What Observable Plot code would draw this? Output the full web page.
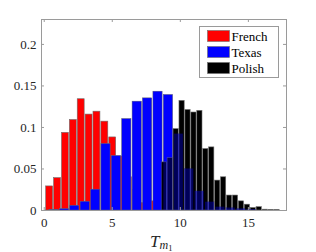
<!DOCTYPE html>
<html><head><meta charset="utf-8">
<script src="https://cdn.jsdelivr.net/npm/d3@7"></script>
<script src="https://cdn.jsdelivr.net/npm/@observablehq/plot@0.6"></script>
<style>body{margin:0;background:#fff} svg{display:block}</style>
</head><body><div id="chart"></div>
<script>
const seriesNames = ["French", "Texas", "Polish"];
const seriesColors = ["#ff0000", "#0000ff", "#000000"];
// histogram bins: first bin centre and bin width (in T units)
const frenchBinStart = 0.40, frenchBinWidth = 0.579;
const texasBinStart = 0.72, texasBinWidth = 0.764;
const polishBinStart = 8.82, polishBinWidth = 0.436;
const frenchValues = [0.029, 0.039, 0.0935, 0.109, 0.134, 0.1155, 0.119, 0.107, 0.088, 0.065, 0.040, 0.025, 0.009, 0.011, 0.004, 0.002, 0.001];
const texasValues = [0.0005, 0.0016, 0.0056, 0.0104, 0.025, 0.080, 0.0655, 0.110, 0.131, 0.135, 0.143, 0.139, 0.092, 0.050, 0.023, 0.010, 0.004, 0.003, 0.002, 0.001];
const polishValues = [0.058, 0.063, 0.098, 0.132, 0.121, 0.118, 0.120, 0.074, 0.076, 0.036, 0.040, 0.018, 0.018, 0.011, 0.007, 0.003, 0.004, 0.001, 0.0008, 0.0006];
const xTicks = [0, 5, 10, 15];
const yTicks = [0, 0.05, 0.1, 0.15, 0.2];

const toRows = (name, start, w, vals) => vals.map((v, i) => ({series: name, c: start + i * w, w, v}));
const french = toRows("French", frenchBinStart, frenchBinWidth, frenchValues);
const texas = toRows("Texas", texasBinStart, texasBinWidth, texasValues);
const polish = toRows("Polish", polishBinStart, polishBinWidth, polishValues);

const FONT = "'Liberation Serif', 'Times New Roman', serif";
const W = 316, H = 252, mL = 41, mR = 30, mT = 19, mB = 42;
const fw = W - mL - mR, fh = H - mT - mB, tl = 3;
const bw = 0.44;
const barOpts = (col) => ({x1: d => d.c - d.w * bw, x2: d => d.c + d.w * bw, y1: 0, y2: "v", fill: col, stroke: "#6e6e6e", strokeWidth: 0.6});

const svg = Plot.plot({
  width: W, height: H,
  marginLeft: mL, marginRight: mR, marginTop: mT, marginBottom: mB,
  style: {fontSize: "13px", color: "#262626", background: "#fff"},
  x: {domain: [-0.2, 17.8]},
  y: {domain: [0, 0.23]},
  marks: [
    Plot.rectY(french, barOpts(seriesColors[0])),
    Plot.rectY(texas, barOpts(seriesColors[1])),
    Plot.rectY(polish, barOpts(seriesColors[2])),
    Plot.rectY(texas, {x1: d => d.c - d.w * bw, x2: d => d.c + d.w * bw, y1: 0, y2: "v", fill: seriesColors[1], fillOpacity: 0.35}),
    Plot.frame({stroke: "#9a9a9a", strokeWidth: 1}),
    Plot.tickY(yTicks, {y: d => d, insetRight: fw - tl, stroke: "#9a9a9a"}),
    Plot.tickY(yTicks, {y: d => d, insetLeft: fw - tl, stroke: "#9a9a9a"}),
    Plot.tickX(xTicks, {x: d => d, insetTop: fh - tl, stroke: "#9a9a9a"}),
    Plot.tickX(xTicks, {x: d => d, insetBottom: fh - tl, stroke: "#9a9a9a"}),
    Plot.axisY(yTicks, {tickSize: 0, tickPadding: 5, label: null, tickFormat: d => d === 0 ? "0" : String(d), fill: "#262626"}),
    Plot.axisX(xTicks, {tickSize: 0, tickPadding: 7, label: null, fill: "#262626"})
  ]
});

const s = d3.select(svg);
// x-axis label T_{m_1}
const lab = s.append("text").attr("x", 150).attr("y", 246.5).attr("text-anchor", "start")
  .attr("fill", "#262626");
lab.append("tspan").attr("font-style", "italic").attr("font-size", 17).text("T");
lab.append("tspan").attr("font-style", "italic").attr("font-size", 12).attr("dy", 2).text("m");
lab.append("tspan").attr("font-size", 8.5).attr("dy", 2).text("1");

// legend
const lg = s.append("g");
lg.append("rect").attr("x", 199.5).attr("y", 26.5).attr("width", 79).attr("height", 51)
  .attr("fill", "#fff").attr("stroke", "#9a9a9a");
seriesNames.forEach((n, i) => {
  lg.append("rect").attr("x", 207.5).attr("y", 30.5 + i * 16).attr("width", 22).attr("height", 11)
    .attr("fill", seriesColors[i]).attr("stroke", "#6e6e6e").attr("stroke-width", 0.6);
  lg.append("text").attr("x", 231.5).attr("y", 40.5 + i * 16).attr("font-size", 13)
    .attr("text-anchor", "start").attr("fill", "#000").text(n);
});

s.attr("font-family", FONT).style("font-family", FONT);
s.selectAll("text").attr("font-family", FONT).style("font-family", FONT);

document.getElementById("chart").appendChild(svg);
</script>
</body></html>
